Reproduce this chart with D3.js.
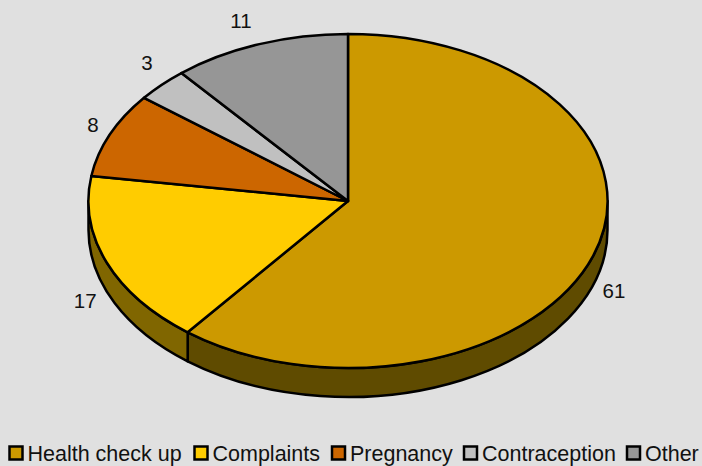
<!DOCTYPE html>
<html>
<head>
<meta charset="utf-8">
<script src="https://cdn.jsdelivr.net/npm/d3@7"></script>
<style>
  html, body { margin: 0; padding: 0; background: #e0e0e0; }
  svg { display: block; }
  text { font-family: "Liberation Sans", Arial, sans-serif; fill: #111; }
</style>
</head>
<body>
<script>
const categories = ["Health check up", "Complaints", "Pregnancy", "Contraception", "Other"];
// slice shares, the labels show them rounded
const values = [60.6, 16.8, 8.2, 3.3, 11.1];
const colors = ["#cc9900", "#ffcc00", "#cc6600", "#c0c0c0", "#969696"];
const wallColors = ["#5f4b00", "#806600"];

const canvWidth = 702, canvHeight = 466;
const cx = 348, cy = 201, rx = 259.5, ry = 167, depth = 29;

const svg = d3.select("body").append("svg")
    .attr("width", canvWidth)
    .attr("height", canvHeight);

svg.append("rect")
    .attr("width", canvWidth)
    .attr("height", canvHeight)
    .attr("fill", "#e0e0e0");

const arcs = d3.pie().sort(null)(values);

// angle measured clockwise from 12 o'clock, on the ellipse
const ex = a => cx + rx * Math.sin(a);
const ey = a => cy - ry * Math.cos(a);

// Side wall, only the front half of the rim is visible
const wall = svg.append("g");
arcs.forEach(function(d, i) {
    const a0 = Math.max(d.startAngle, Math.PI / 2);
    const a1 = Math.min(d.endAngle, Math.PI * 1.5);
    if (a1 <= a0) return;
    const path = "M" + ex(a0) + "," + ey(a0)
        + "A" + rx + "," + ry + " 0 0 1 " + ex(a1) + "," + ey(a1)
        + "L" + ex(a1) + "," + (ey(a1) + depth)
        + "A" + rx + "," + ry + " 0 0 0 " + ex(a0) + "," + (ey(a0) + depth)
        + "Z";
    wall.append("path")
        .attr("d", path)
        .attr("fill", wallColors[i])
        .attr("stroke", "#000")
        .attr("stroke-width", 2.5)
        .attr("stroke-linejoin", "round");
});

// Top face: unit arc squashed into the ellipse
const arc = d3.arc().innerRadius(0).outerRadius(1);
svg.append("g")
    .attr("transform", "translate(" + cx + "," + cy + ") scale(" + rx + "," + ry + ")")
    .selectAll("path")
    .data(arcs)
    .enter().append("path")
    .attr("d", arc)
    .attr("fill", (d, i) => colors[i])
    .attr("stroke", "#000")
    .attr("stroke-width", 2.5)
    .attr("stroke-linejoin", "round")
    .attr("vector-effect", "non-scaling-stroke");

// Value labels sit just outside the rim, nudged the way the original has them
const labelOffsets = [[6, 32], [-7, 35], [-2.5, -6], [-3.5, -15], [-13, -14]];
const labelRadius = 1.06;
svg.selectAll("text.value")
    .data(arcs)
    .enter().append("text")
    .attr("class", "value")
    .attr("font-size", "20.5px")
    .attr("text-anchor", "middle")
    .attr("x", function(d, i) {
        const a = (d.startAngle + d.endAngle) / 2;
        return cx + rx * labelRadius * Math.sin(a) + labelOffsets[i][0];
    })
    .attr("y", function(d, i) {
        const a = (d.startAngle + d.endAngle) / 2;
        return cy - ry * labelRadius * Math.cos(a) + labelOffsets[i][1] + 7;
    })
    .text(d => Math.round(d.value));

// Legend
const legendX = [9.5, 194.5, 332, 464, 627];
const legend = svg.selectAll("g.legend")
    .data(categories)
    .enter().append("g")
    .attr("class", "legend")
    .attr("transform", (d, i) => "translate(" + legendX[i] + ",446.5)");
legend.append("rect")
    .attr("width", 13)
    .attr("height", 13)
    .attr("fill", (d, i) => colors[i])
    .attr("stroke", "#000")
    .attr("stroke-width", 2.5);
legend.append("text")
    .attr("x", 18)
    .attr("y", 14.5)
    .attr("font-size", "21.5px")
    .text(d => d);
</script>
</body>
</html>
